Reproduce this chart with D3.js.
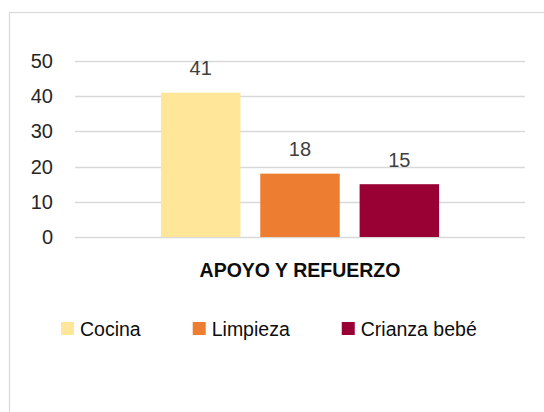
<!DOCTYPE html>
<html>
<head>
<meta charset="utf-8">
<script src="https://cdn.jsdelivr.net/npm/d3@7"></script>
<style>
  body { margin: 0; background: #fff; }
  svg { display: block; font-family: "Liberation Sans", Arial, sans-serif; }
</style>
</head>
<body>
<svg id="viz" width="544" height="412"></svg>
<script>
// Data
const category = 'APOYO Y REFUERZO';
const series   = ['Cocina', 'Limpieza', 'Crianza bebé'];
const values   = [41, 18, 15];
const colors   = ['#FFE699', '#ED7D31', '#990033'];
const yTicks   = [0, 10, 20, 30, 40, 50];

const svg = d3.select('#viz');

// Chart border (runs off the right and bottom of the picture)
svg.append('rect')
   .attr('x', 9.5).attr('y', 12.5)
   .attr('width', 700).attr('height', 600)
   .attr('fill', 'none')
   .attr('stroke', '#d9d9d9')
   .attr('stroke-width', 1.2);

// Plot area
const plot = { left: 75, right: 525, top: 61, bottom: 237 };

const yScale = d3.scaleLinear()
                 .domain([0, 50])
                 .range([plot.bottom, plot.top]);

const x0 = d3.scaleBand()
             .domain([category])
             .range([plot.left, plot.right])
             .paddingOuter(0.309);

const x1 = d3.scaleBand()
             .domain(series)
             .range([0, x0.bandwidth()])
             .paddingInner(0.2);

// Gridlines
svg.append('g')
   .selectAll('line')
   .data(yTicks)
   .join('line')
     .attr('x1', plot.left)
     .attr('x2', plot.right)
     .attr('y1', d => Math.round(yScale(d)) + 0.5)
     .attr('y2', d => Math.round(yScale(d)) + 0.5)
     .attr('stroke', '#d9d9d9')
     .attr('stroke-width', 1.3);

// Y axis labels
const yAxis = svg.append('g')
   .attr('transform', 'translate(53,0)')
   .call(d3.axisLeft(yScale).tickValues(yTicks).tickSize(0).tickPadding(0));
yAxis.select('.domain').remove();
yAxis.selectAll('text')
     .attr('font-size', 20)
     .attr('font-family', '"Liberation Sans", Arial, sans-serif')
     .attr('fill', '#262626');

// Bars
const g = svg.append('g')
             .attr('transform', `translate(${x0(category)},0)`);

g.selectAll('rect')
 .data(series)
 .join('rect')
   .attr('x', d => x1(d))
   .attr('y', (d, i) => yScale(values[i]))
   .attr('width', x1.bandwidth())
   .attr('height', (d, i) => yScale(0) - yScale(values[i]))
   .attr('fill', (d, i) => colors[i]);

// Data labels
g.selectAll('text')
 .data(series)
 .join('text')
   .attr('x', d => x1(d) + x1.bandwidth() / 2)
   .attr('y', (d, i) => yScale(values[i]) - 17.5)
   .attr('text-anchor', 'middle')
   .attr('font-size', 20)
   .attr('fill', '#404040')
   .text((d, i) => values[i]);

// Category label
svg.append('text')
   .attr('x', x0(category) + x0.bandwidth() / 2)
   .attr('y', 277)
   .attr('text-anchor', 'middle')
   .attr('font-size', 19.5)
   .attr('font-weight', 'bold')
   .attr('fill', '#0d0d0d')
   .text(category);

// Legend
const legend = svg.append('g');
let lx = 61;
series.forEach((name, i) => {
  legend.append('rect')
        .attr('x', lx).attr('y', 322)
        .attr('width', 13).attr('height', 13)
        .attr('fill', colors[i]);
  const t = legend.append('text')
        .attr('x', lx + 19)
        .attr('y', 336)
        .attr('font-size', 19.5)
        .attr('fill', '#0d0d0d')
        .text(name);
  lx += 19 + t.node().getComputedTextLength() + 52;
});
</script>
</body>
</html>
